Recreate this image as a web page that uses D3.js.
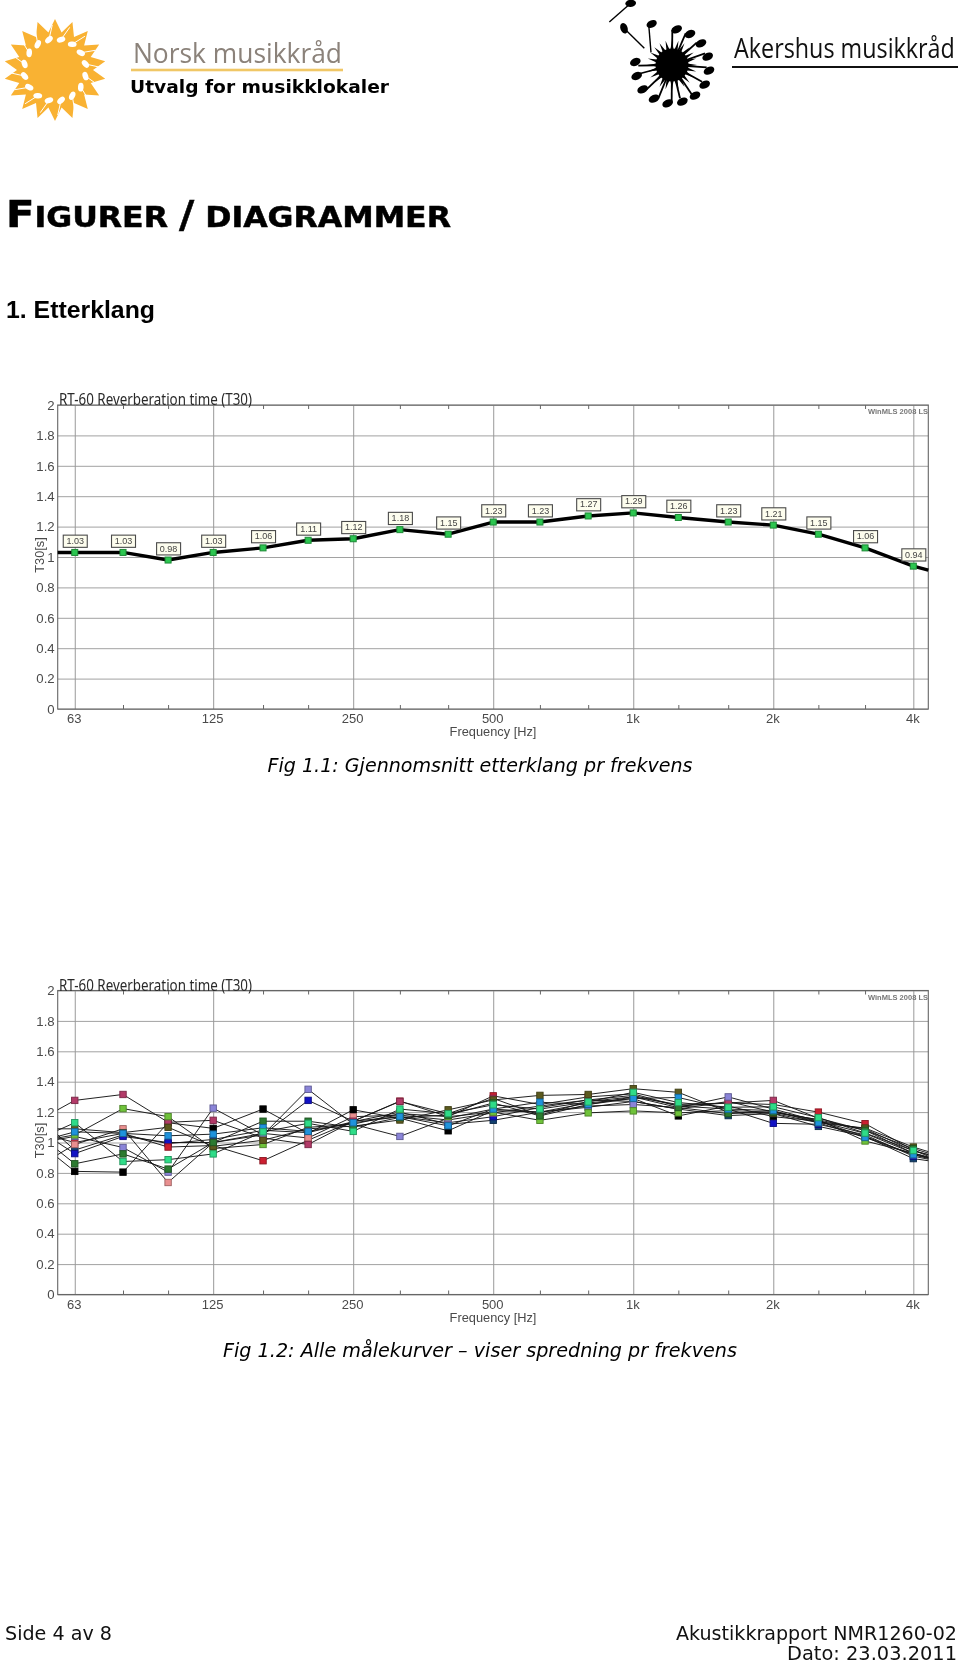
<!DOCTYPE html>
<html><head><meta charset="utf-8">
<script src="https://cdn.jsdelivr.net/npm/d3@7/dist/d3.min.js"></script>
<style>html,body{margin:0;padding:0;background:#fff}svg{display:block;filter:blur(0.4px)}</style>
</head><body><div id="c"></div>
<script>
// ---------- data ----------
const frequencies=[63,80,100,125,160,200,250,315,400,500,630,800,1000,1250,1600,2000,2500,3150,4000];
const octaveTicks=[63,125,250,500,1000,2000,4000];
const octaveLabels=["63","125","250","500","1k","2k","4k"];
const yTicks=[0,0.2,0.4,0.6,0.8,1,1.2,1.4,1.6,1.8,2];
const edgeFreqs=[57.9,4308];
const avgValues=[1.03,1.03,0.98,1.03,1.06,1.11,1.12,1.18,1.15,1.23,1.23,1.27,1.29,1.26,1.23,1.21,1.15,1.06,0.94];
const avgEdges=[1.03,0.914];
const black=[.81,.805,1.13,1.093,1.22,1.06,1.215,1.16,1.077,1.21,1.2,1.26,1.29,1.175,1.24,1.17,1.14,1.09,.945];
const navy=[.95,1.05,.993,1.02,1.08,1.065,1.137,1.2,1.12,1.146,1.2,1.232,1.27,1.22,1.177,1.19,1.106,1.04,.894];
const blue=[.927,1.04,1.0,1.0,1.05,1.277,1.14,1.17,1.13,1.17,1.23,1.28,1.31,1.24,1.22,1.126,1.12,1.05,.91];
const red=[1.0,1.06,.97,.98,.88,1.015,1.14,1.272,1.17,1.307,1.25,1.3,1.32,1.24,1.26,1.25,1.2,1.124,.95];
const salmon=[.987,1.09,.737,1.0,1.06,1.03,1.17,1.18,1.148,1.195,1.24,1.28,1.27,1.22,1.27,1.2,1.14,1.06,.93];
const maroon=[1.277,1.316,1.133,1.146,1.03,.987,1.14,1.27,1.19,1.29,1.18,1.27,1.3,1.25,1.26,1.277,1.16,1.08,.93];
const lilac=[1.04,.967,.805,1.226,1.05,1.35,1.12,1.04,1.16,1.22,1.2,1.24,1.25,1.23,1.3,1.22,1.14,1.04,.92];
const lightgreen=[1.05,1.223,1.17,.96,.987,1.1,1.12,1.19,1.17,1.2,1.146,1.195,1.208,1.195,1.21,1.2,1.15,1.01,.93];
const olive=[1.09,1.065,1.1,.975,1.015,1.09,1.108,1.148,1.215,1.28,1.31,1.316,1.354,1.33,1.2,1.192,1.13,1.095,.97];
const darkgreen=[.86,.925,.825,1.0,1.14,1.14,1.1,1.165,1.18,1.26,1.175,1.25,1.3,1.23,1.19,1.2,1.15,1.08,.96];
const sky=[1.07,1.06,1.044,1.055,1.097,1.073,1.13,1.17,1.11,1.22,1.265,1.25,1.29,1.296,1.22,1.21,1.13,1.033,.92];
const mint=[1.13,.875,.887,.925,1.07,1.126,1.073,1.22,1.19,1.248,1.22,1.267,1.33,1.263,1.232,1.235,1.164,1.062,.947];
const seriesValues=[black,navy,blue,red,salmon,maroon,lilac,lightgreen,olive,darkgreen,sky,mint];
const seriesEdges=[[.9,.92],[1.05,.88],[1.0,.89],[1.03,.91],[.92,.905],[1.215,.90],[1.02,.895],[1.03,.90],[1.09,.94],[.95,.93],[1.04,.90],[1.08,.92]];
const seriesColors=["#000000","#123f6e","#1212c4","#cc1f30","#e98f8f","#b23a68","#8a84d8","#6fc23a","#5c5a1e","#2c7a30","#1f93dc","#2fdc88"];
const chartTitle="RT-60 Reverberation time (T30)";
const caption1="Fig 1.1: Gjennomsnitt etterklang pr frekvens";
const caption2="Fig 1.2: Alle målekurver – viser spredning pr frekvens";

// ---------- page ----------
const W=960,H=1665;
const svg=d3.select("#c").append("svg").attr("width",W).attr("height",H).attr("viewBox",`0 0 ${W} ${H}`);
svg.append("rect").attr("width",W).attr("height",H).attr("fill","#fff");
function txt(s,x,y,o){const t=svg.append("text").attr("x",x).attr("y",y).text(s)
  .attr("font-family",o.f).attr("font-size",o.s).attr("fill",o.c||"#000");
  if(o.w)t.attr("font-weight",o.w); if(o.i)t.attr("font-style","italic"); if(o.a)t.attr("text-anchor",o.a);
  if(o.l)t.attr("textLength",o.l).attr("lengthAdjust","spacingAndGlyphs"); return t;}
const DV='"DejaVu Sans"',LS='"Liberation Sans"';

// sun logo
(function(){
  const g=svg.append("g").attr("transform","translate(55,70)"),col="#f9b233",n=18;
  const pts=d3.range(n*2).map(i=>{const a=i*Math.PI/n-Math.PI/2,r=i%2?38:51;return [r*Math.cos(a),r*Math.sin(a)];});
  g.append("polygon").attr("points",pts.map(p=>p.join(",")).join(" ")).attr("fill",col);
  d3.range(16).forEach(i=>{
    const a=(i+0.5)*2*Math.PI/16,cx=31*Math.cos(a),cy=31*Math.sin(a),b=a+0.42;
    g.append("ellipse").attr("cx",cx).attr("cy",cy).attr("rx",4.4).attr("ry",2.8)
      .attr("transform",`rotate(${(a*180/Math.PI+60).toFixed(1)} ${cx} ${cy})`).attr("fill","#fff");
    g.append("line").attr("x1",cx+2*Math.cos(b)).attr("y1",cy+2*Math.sin(b))
      .attr("x2",cx+15*Math.cos(b)).attr("y2",cy+15*Math.sin(b)).attr("stroke","#fff").attr("stroke-width",1);
  });
})();
txt("Norsk musikkråd",133,62.7,{f:'"Open Sans"',s:28,c:"#8b827a",l:209});
svg.append("rect").attr("x",131).attr("y",68.7).attr("width",212).attr("height",2.6).attr("fill","#f0c766");
txt("Utvalg for musikklokaler",130,93,{f:DV,s:18.5,w:"bold",l:259});

// notes logo
(function(){
  const g=svg.append("g"),cx=672,cy=65,n=24;
  const pts=d3.range(n*2).map(i=>{const a=i*Math.PI/n,r=i%2?14:25;return [cx+r*Math.cos(a),cy+r*Math.sin(a)];});
  g.append("polygon").attr("points",pts.map(p=>p.join(",")).join(" ")).attr("fill","#000");
  g.append("circle").attr("cx",cx).attr("cy",cy).attr("r",16.5).attr("fill","#000");
  const heads=[[230,88],[270,102],[303,130],[323,170],[327,212],[314,254],[285,287],[247,305],[203,310],[162,296],[128,268],[110,228],[106,186]];
  const stems=[[217,90],[257,100],[290,128],[315,160],[320,202],[306,245],[275,283],[240,295],[215,305],[175,295],[140,268],[115,222],[115,197]];
  const p=v=>[600+v[0]/3,v[1]/3];
  heads.forEach((h,i)=>{const a=p(h),s=p(stems[i]);
    g.append("line").attr("x1",cx).attr("y1",cy).attr("x2",s[0]).attr("y2",s[1]).attr("stroke","#000").attr("stroke-width",1.8);
    g.append("ellipse").attr("cx",a[0]).attr("cy",a[1]).attr("rx",5.6).attr("ry",3.8)
      .attr("transform",`rotate(-25 ${a[0]} ${a[1]})`).attr("fill","#000");});
  [[[155,72],[153,157],-25],[[72,85],[133,145],70],[[92,10],[28,66],-5]].forEach(d=>{const a=p(d[0]),b=p(d[1]);
    g.append("line").attr("x1",a[0]-(d[2]==-25?3:0)).attr("y1",a[1]).attr("x2",b[0]).attr("y2",b[1]).attr("stroke","#000").attr("stroke-width",1.4);
    g.append("ellipse").attr("cx",a[0]).attr("cy",a[1]).attr("rx",5.4).attr("ry",3.6)
      .attr("transform",`rotate(${d[2]} ${a[0]} ${a[1]})`).attr("fill","#000");});
})();
const ak=txt("Akershus musikkråd",0,0,{f:'"Open Sans"',s:27.5,c:"#111"});
ak.attr("transform",`translate(734,58) scale(${(221/ak.node().getComputedTextLength()).toFixed(3)},1)`);
svg.append("rect").attr("x",732).attr("y",66).attr("width",226).attr("height",2).attr("fill","#111");

// headings
const head=txt("F",6,227,{f:DV,s:37,w:"bold",l:445}).attr("stroke","#000").attr("stroke-width",0.5);
head.append("tspan").text("IGURER ").attr("font-size",28);
head.append("tspan").text("/").attr("font-size",37);
head.append("tspan").text(" DIAGRAMMER").attr("font-size",28);
txt("1. Etterklang",6,318,{f:LS,s:24,w:"bold",l:149});

// ---------- charts ----------
const x=d3.scaleLog().domain([edgeFreqs[0],edgeFreqs[1]]).range([57.7,928.3]);
function frame(top){
  const y=d3.scaleLinear().domain([0,2]).range([top+304,top]);
  const g=svg.append("g");
  const tk=(sel,w)=>sel.selectAll("text").attr("font-family",LS).attr("font-size",w).attr("fill","#4a4a4a");
  // horizontal grid
  const gy=g.append("g").attr("transform","translate(57.7,0)")
    .call(d3.axisLeft(y).tickValues(yTicks).tickFormat(d3.format("~g")).tickSize(-870.6).tickPadding(3));
  gy.select(".domain").remove();
  gy.selectAll("line").attr("stroke","#a2a2a2").attr("stroke-width",1);
  tk(gy,13.2);
  // vertical octave grid
  const gx=g.append("g").attr("transform",`translate(0,${top+304})`)
    .call(d3.axisBottom(x).tickValues(octaveTicks).tickFormat((d,i)=>octaveLabels[i]).tickSize(-304).tickPadding(5));
  gx.select(".domain").remove();
  gx.selectAll("line").attr("stroke","#999").attr("stroke-width",1);
  tk(gx,13);
  gx.selectAll("text").attr("dx",-1);
  // minor ticks
  const minor=frequencies.filter(f=>!octaveTicks.includes(f));
  const mb=g.append("g").attr("transform",`translate(0,${top+304})`).call(d3.axisBottom(x).tickValues(minor).tickFormat("").tickSize(-4));
  const mt=g.append("g").attr("transform",`translate(0,${top})`).call(d3.axisTop(x).tickValues(minor).tickFormat("").tickSize(-4));
  [mb,mt].forEach(s=>{s.select(".domain").remove();s.selectAll("line").attr("stroke","#666");});
  // frame
  g.append("rect").attr("x",57.7).attr("y",top).attr("width",870.6).attr("height",304).attr("fill","none").attr("stroke","#666").attr("stroke-width",1.1);
  // texts
  txt(chartTitle,59,top,{f:'"Noto Sans"',s:15.5,c:"#2a2a2a",l:193});
  txt("WinMLS 2008 LS",868,top+9,{f:LS,s:7.6,w:"bold",c:"#777",l:60});
  txt("Frequency [Hz]",493,top+331,{f:LS,s:12.8,c:"#4a4a4a",a:"middle"});
  svg.append("text").attr("transform",`translate(44,${top+150}) rotate(-90)`).attr("text-anchor","middle")
    .attr("font-family",LS).attr("font-size",12.8).attr("fill","#4a4a4a").text("T30[s]");
  return y;
}
function rows(v,e){const r=frequencies.map((f,i)=>({f,v:v[i]}));return [{f:edgeFreqs[0],v:e[0]},...r,{f:edgeFreqs[1],v:e[1]}];}

// chart 1
const y1=frame(405);
const line1=d3.line().x(d=>x(d.f)).y(d=>y1(d.v));
svg.append("path").attr("d",line1(rows(avgValues,avgEdges))).attr("fill","none").attr("stroke","#000").attr("stroke-width",3.4).attr("stroke-linejoin","round");
const pts1=frequencies.map((f,i)=>({f,v:avgValues[i]}));
svg.append("g").selectAll("rect").data(pts1).join("rect")
  .attr("x",d=>x(d.f)-3).attr("y",d=>y1(d.v)-3).attr("width",6).attr("height",6)
  .attr("fill","#2cc650").attr("stroke","#1d8a36").attr("stroke-width",1);
const lab=svg.append("g").selectAll("g").data(pts1).join("g")
  .attr("transform",d=>`translate(${x(d.f)},${y1(d.v)-11.5})`);
lab.append("rect").attr("x",-11.5).attr("y",-5.8).attr("width",24).attr("height",12.2).attr("fill","#fdfdee").attr("stroke","#4a4a4a").attr("stroke-width",1.1);
lab.append("text").attr("text-anchor","middle").attr("x",0.5).attr("y",3).attr("font-family",LS).attr("font-size",9).attr("fill","#444").text(d=>d3.format(".2f")(d.v));
txt(caption1,267.5,772,{f:DV,s:19,i:1,l:425});

// chart 2
const y2=frame(990.5);
const line2=d3.line().x(d=>x(d.f)).y(d=>y2(d.v));
svg.append("g").selectAll("path").data(seriesValues).join("path")
  .attr("d",(v,i)=>line2(rows(v,seriesEdges[i]))).attr("fill","none").attr("stroke","#161616").attr("stroke-width",0.95);
seriesValues.forEach((v,i)=>{
  const c=d3.color(seriesColors[i]);
  svg.append("g").selectAll("rect").data(frequencies.map((f,k)=>({f,v:v[k]}))).join("rect")
    .attr("x",d=>x(d.f)-3.2).attr("y",d=>y2(d.v)-3.2).attr("width",6.4).attr("height",6.4)
    .attr("fill",seriesColors[i]).attr("stroke",i==0?"#000":c.darker(1.1)).attr("stroke-width",0.9);
});
txt(caption2,223,1357,{f:DV,s:19,i:1,l:514});

// footer
txt("Side 4 av 8",5,1640,{f:DV,s:19,c:"#111",l:107});
txt("Akustikkrapport NMR1260-02",676,1640,{f:DV,s:19,c:"#111",l:281});
txt("Dato: 23.03.2011",787,1660,{f:DV,s:19,c:"#111",l:170});
</script></body></html>
